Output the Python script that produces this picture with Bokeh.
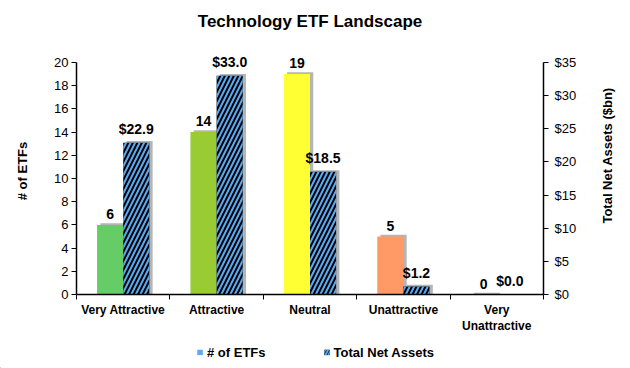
from bokeh.plotting import figure
from bokeh.models import (ColumnDataSource, Range1d, LinearAxis, FixedTicker,
                          PrintfTickFormatter, Legend, LegendItem, LabelSet, Label)
from bokeh.layouts import row, column
from bokeh.core.properties import value
from bokeh.embed import file_html
from bokeh.resources import INLINE

categories = ["Very Attractive", "Attractive", "Neutral", "Unattractive", "Very\nUnattractive"]
num_etfs = [6, 14, 19, 5, 0]
net_assets = [22.9, 33.0, 18.5, 1.2, 0.0]
bar_colors = ["#66cc66", "#99cc33", "#ffff33", "#ff9966", "#bbbbbb"]
left_ticks = list(range(0, 21, 2))
right_ticks = list(range(0, 36, 5))

FONT = "Liberation Sans"
BLUE = "#5aabf5"
W = 0.28
LEFT_MAX, RIGHT_MAX = 20, 35
HEAD = 22.5 / 20  # extra room above the axes for the value labels

MAIN_H = 336
centers = [i + 0.5 for i in range(len(categories))]
cnt_src = ColumnDataSource(dict(
    x=[c - W / 2 for c in centers],
    sx=[c - W / 2 + 0.035 for c in centers],
    top=num_etfs,
    stop=[v + 0.15 for v in num_etfs],
    color=bar_colors,
    label=[str(v) for v in num_etfs],
))
ast_src = ColumnDataSource(dict(
    x=[c + W / 2 for c in centers],
    sx=[c + W / 2 + 0.035 for c in centers],
    top=net_assets,
    stop=[v + 0.26 if v > 0 else 0 for v in net_assets],
    label=["$%.1f" % v for v in net_assets],
))

p = figure(frame_width=467, frame_height=261, output_backend="svg", toolbar_location=None,
           x_range=Range1d(0, len(categories)), y_range=Range1d(0, LEFT_MAX * HEAD),
           min_border_left=44, min_border_right=53, min_border_top=33, min_border_bottom=42,
           title="Technology ETF Landscape")
p.extra_y_ranges = {"assets": Range1d(0, RIGHT_MAX * HEAD)}
p.outline_line_color = None
p.xgrid.visible = False
p.ygrid.visible = False
p.background_fill_color = "white"
p.border_fill_color = "white"

p.title.align = "center"
p.title.text_font = FONT
p.title.text_font_size = "17px"
p.title.text_font_style = "bold"
p.title.text_color = "black"
p.title.standoff = 5

# shadows
p.vbar(x="sx", top="stop", width=W, source=cnt_src, fill_color="#b5b5b5", line_color=None)
p.vbar(x="sx", top="stop", width=W, source=ast_src, fill_color="#b5b5b5", line_color=None,
       y_range_name="assets")
# bars
p.vbar(x="x", top="top", width=W, source=cnt_src, fill_color="color", line_color=None)
p.vbar(x="x", top="top", width=W, source=ast_src, fill_color="black", line_color=None,
       hatch_pattern="/", hatch_color=BLUE, hatch_weight=2, hatch_scale=9,
       y_range_name="assets")

lab_kw = dict(text_align="center", text_baseline="bottom", y_offset=6,
              text_font_size="14px", text_font_style="bold", text_font=value(FONT),
              text_color="black")
p.add_layout(LabelSet(x="x", y="top", text="label", source=cnt_src, **lab_kw))
p.add_layout(LabelSet(x="x", y="top", text="label", source=ast_src, y_range_name="assets",
                      **lab_kw))

# axes
xa = p.xaxis[0]
xa.ticker = FixedTicker(ticks=centers, minor_ticks=list(range(len(categories) + 1)))
xa.major_label_overrides = {c: n for c, n in zip(centers, categories)}
xa.major_tick_out = 0
xa.major_tick_in = 0
xa.minor_tick_out = 5
xa.minor_tick_in = 0
xa.major_label_text_font = FONT
xa.major_label_text_font_size = "12px"
xa.major_label_text_font_style = "bold"
xa.major_label_text_color = "black"
xa.axis_line_color = "black"
xa.axis_line_width = 1.5
xa.minor_tick_line_color = "black"
xa.major_label_standoff = 3

ya = p.yaxis[0]
ya.ticker = FixedTicker(ticks=left_ticks)
ya.bounds = (0, LEFT_MAX)
ya.minor_tick_line_color = None
ya.major_tick_out = 5
ya.major_tick_in = 0
ya.major_label_standoff = 3

ra = LinearAxis(y_range_name="assets", ticker=FixedTicker(ticks=right_ticks),
                formatter=PrintfTickFormatter(format="$%d"), bounds=(0, RIGHT_MAX))
ra.minor_tick_line_color = None
ra.major_tick_out = 5
ra.major_tick_in = 0
ra.major_label_standoff = 6
p.add_layout(ra, "right")

for a in (ya, ra):
    a.major_label_text_font = FONT
    a.major_label_text_font_size = "13px"
    a.major_label_text_color = "black"
    a.axis_line_color = "black"
    a.axis_line_width = 1.5
    a.major_tick_line_color = "black"


def blank(w, h):
    f = figure(width=w, height=h, min_border=0, x_range=Range1d(0, w), y_range=Range1d(0, h),
               toolbar_location=None, output_backend="svg",
               x_axis_location=None, y_axis_location=None)
    f.outline_line_color = None
    f.xgrid.visible = False
    f.ygrid.visible = False
    f.background_fill_color = "white"
    f.border_fill_color = "white"
    return f


def axis_title(w, h, text, cx, cy_top):
    f = blank(w, h)
    f.add_layout(Label(x=cx, y=h - cy_top, text=text, angle=90, angle_units="deg",
                       text_align="center", text_baseline="middle", text_font=FONT,
                       text_font_size="13px", text_font_style="bold", text_color="black"))
    return f


left_title = axis_title(32, MAIN_H, "# of ETFs", 22, 177)
right_title = axis_title(34, MAIN_H, "Total Net Assets ($bn)", 11, 157)

leg = blank(630, 32)
# legend swatches: one hidden point each, placed outside the visible range
r1 = leg.vbar(x=[-50], top=[1], width=1, fill_color=BLUE, line_color=None)
r2 = leg.vbar(x=[-50], top=[1], width=1, fill_color="black", line_color=None,
              hatch_pattern="/", hatch_color=BLUE, hatch_weight=2, hatch_scale=6)
legend = Legend(items=[LegendItem(label="# of ETFs", renderers=[r1]),
                       LegendItem(label="Total Net Assets", renderers=[r2])],
                orientation="horizontal", location="center",
                glyph_width=7, glyph_height=7, spacing=57, label_height=14,
                label_standoff=4, label_text_color="black",
                label_text_font=FONT, label_text_font_size="13px",
                label_text_font_style="bold", border_line_color=None,
                background_fill_alpha=0, margin=0, padding=0)
leg.add_layout(legend)

layout = column(row(left_title, p, right_title), leg, spacing=0)

open("out.html", "w").write(file_html(layout, INLINE))
